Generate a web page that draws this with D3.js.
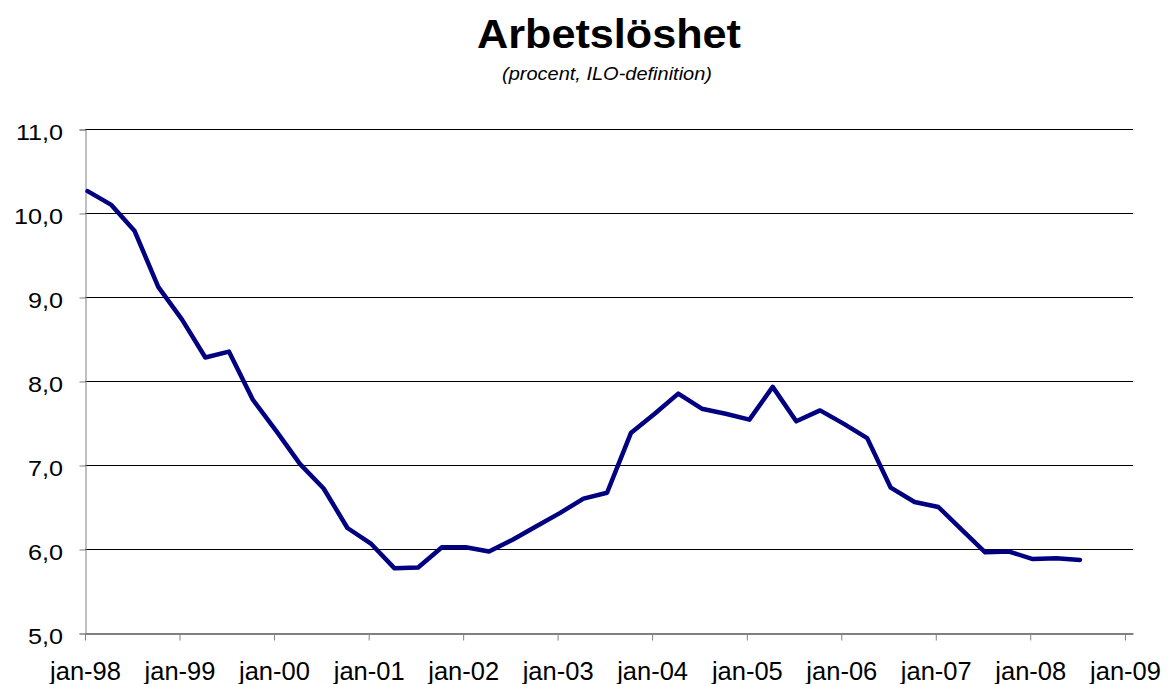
<!DOCTYPE html>
<html>
<head>
<meta charset="utf-8">
<script src="https://cdn.jsdelivr.net/npm/d3@7"></script>
<style>
  body { margin: 0; background: #fff; }
  svg { display: block; font-family: Arial, "Liberation Sans", sans-serif; }
</style>
</head>
<body>
<svg id="chart" width="1170" height="684"></svg>
<script>
// quarterly observations, Q1 1998 - Q3 2008
const quarters = [
  "1998Q1","1998Q2","1998Q3","1998Q4","1999Q1","1999Q2","1999Q3","1999Q4",
  "2000Q1","2000Q2","2000Q3","2000Q4","2001Q1","2001Q2","2001Q3","2001Q4",
  "2002Q1","2002Q2","2002Q3","2002Q4","2003Q1","2003Q2","2003Q3","2003Q4",
  "2004Q1","2004Q2","2004Q3","2004Q4","2005Q1","2005Q2","2005Q3","2005Q4",
  "2006Q1","2006Q2","2006Q3","2006Q4","2007Q1","2007Q2","2007Q3","2007Q4",
  "2008Q1","2008Q2","2008Q3"
]
const rate = [
  10.26, 10.10, 9.79, 9.12, 8.73, 8.28, 8.35, 7.78,
  7.40, 7.01, 6.72, 6.25, 6.06, 5.77, 5.78, 6.02,
  6.02, 5.97, 6.11, 6.27, 6.43, 6.60, 6.67, 7.38,
  7.61, 7.85, 7.67, 7.61, 7.54, 7.93, 7.52, 7.65,
  7.49, 7.32, 6.73, 6.56, 6.50, 6.23, 5.96, 5.97,
  5.88, 5.89, 5.87
]
const yTicks = [5, 6, 7, 8, 9, 10, 11]
const xTickYears = [1998, 1999, 2000, 2001, 2002, 2003, 2004, 2005, 2006, 2007, 2008, 2009]
const monthNames = ["jan","feb","mar","apr","maj","jun","jul","aug","sep","okt","nov","dec"]

const svg = d3.select("#chart")
const m = { left: 85, right: 1133, top: 129, bottom: 633 }

const parseQ = q => {
  let yr = +q.slice(0, 4), k = +q.slice(5)
  return new Date(yr, (k - 1) * 3, 11)
}
const data = quarters.map((q, i) => ({ date: parseQ(q), value: rate[i] }))

const x = d3.scaleTime()
  .domain([new Date(1998, 0, 1), new Date(2009, 1, 1)])
  .range([m.left, m.right])
const y = d3.scaleLinear().domain([5, 11]).range([m.bottom, m.top])

// title
svg.append("text")
  .attr("x", 609).attr("y", 48)
  .attr("text-anchor", "middle")
  .attr("font-size", 41).attr("font-weight", "bold")
  .attr("textLength", 264).attr("lengthAdjust", "spacingAndGlyphs")
  .text("Arbetslöshet")
svg.append("text")
  .attr("x", 607).attr("y", 80)
  .attr("text-anchor", "middle")
  .attr("font-size", 17.5).attr("font-style", "italic")
  .attr("textLength", 210).attr("lengthAdjust", "spacingAndGlyphs")
  .text("(procent, ILO-definition)")

// gridlines
svg.append("g")
  .selectAll("line")
  .data(yTicks.filter(d => d > 5))
  .join("line")
  .attr("x1", m.left).attr("x2", m.right)
  .attr("y1", d => y(d) + 0.5).attr("y2", d => y(d) + 0.5)
  .attr("stroke", "#000").attr("stroke-width", 1)

// y axis
const yAxis = svg.append("g")
  .attr("transform", `translate(${m.left + 0.5},0.5)`)
  .call(d3.axisLeft(y).tickValues(yTicks).tickSize(6).tickPadding(10)
    .tickFormat(d => d3.format(".1f")(d).replace(".", ",")))
yAxis.select(".domain").attr("stroke", "#808080")
yAxis.selectAll(".tick line").attr("stroke", "#808080")
yAxis.selectAll("text")
  .attr("font-size", 22.5).attr("fill", "#000")
  .attr("font-family", "Arial, 'Liberation Sans', sans-serif")
  .attr("x", -20).attr("y", 2.5)
  .attr("transform", "scale(1.12,1)")

// x axis
const xAxis = svg.append("g")
  .attr("transform", `translate(0,${m.bottom + 0.5})`)
  .call(d3.axisBottom(x)
    .tickValues(xTickYears.map(yr => new Date(yr, 0, 1)))
    .tickSize(7).tickSizeOuter(0).tickPadding(21)
    .tickFormat(d => monthNames[d.getMonth()] + "-" + d3.timeFormat("%y")(d)))
xAxis.select(".domain").attr("stroke", "#808080").attr("stroke-width", 2)
xAxis.selectAll(".tick line").attr("stroke", "#808080")
xAxis.selectAll("text").attr("font-size", 25.5).attr("fill", "#000")
  .attr("font-family", "Arial, 'Liberation Sans', sans-serif")

// series
svg.append("path")
  .datum(data)
  .attr("fill", "none")
  .attr("stroke", "#000080")
  .attr("stroke-width", 4.5)
  .attr("stroke-linejoin", "round")
  .attr("stroke-linecap", "round")
  .attr("d", d3.line().x(d => x(d.date)).y(d => y(d.value)))
</script>
</body>
</html>
